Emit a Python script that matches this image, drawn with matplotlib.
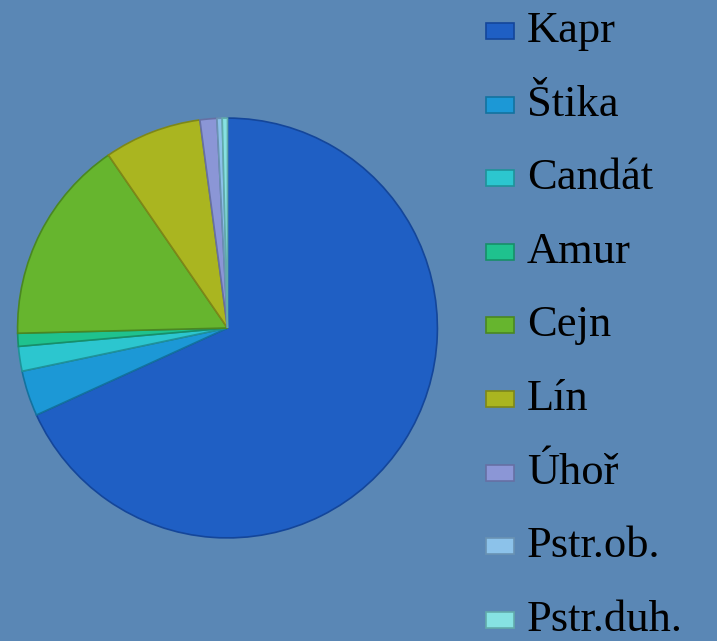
import matplotlib.pyplot as plt
from matplotlib.patches import Rectangle

# fish catch shares (%)
labels = ["Kapr", "Štika", "Candát", "Amur", "Cejn", "Lín", "Úhoř", "Pstr.ob.", "Pstr.duh."]
shares = [68.2, 3.5, 1.9, 1.0, 15.8, 7.5, 1.3, 0.4, 0.4]
colors = ["#1f5fc4", "#1c98d6", "#2cc6cf", "#1fc28e", "#66b52e",
          "#aab520", "#8b96d6", "#8cc2ea", "#86e2e2"]
edge_colors = ["#14469a", "#13729f", "#1f9299", "#178f69", "#4a8722",
               "#7e8718", "#6670a4", "#6a93b3", "#62abab"]
bg = "#5a87b5"

W, H = 717, 641
fig = plt.figure(figsize=(W / 100, H / 100), dpi=100, facecolor=bg)

# pie placed in pixel terms: centre (227.5, 328), radius 212
cx, cy, r = 227.5, 328, 212
ax = fig.add_axes([(cx - r) / W, (H - cy - r) / H, 2 * r / W, 2 * r / H])
ax.set_facecolor(bg)
wedges, _ = ax.pie(shares, colors=colors, startangle=90, counterclock=False,
                   radius=1.0, wedgeprops=dict(linewidth=1.2))
for w, ec in zip(wedges, edge_colors):
    w.set_edgecolor(ec)
ax.set_xlim(-1.01, 1.01)
ax.set_ylim(-1.01, 1.01)
ax.set_aspect("equal")
ax.axis("off")

# legend drawn by hand to match row spacing
y0, step = 31, 73.6
for i, (lab, col, ec) in enumerate(zip(labels, colors, edge_colors)):
    yc = y0 + step * i
    fig.add_artist(Rectangle((486 / W, (H - yc - 8) / H), 28 / W, 16 / H,
                             transform=fig.transFigure, facecolor=col,
                             edgecolor=ec, linewidth=1.2))
    fig.text(527 / W, (H - yc) / H, lab, fontsize=32, family="Liberation Serif",
             color="black", va="center", ha="left")

fig.savefig("out.png", dpi=100, facecolor=bg)
